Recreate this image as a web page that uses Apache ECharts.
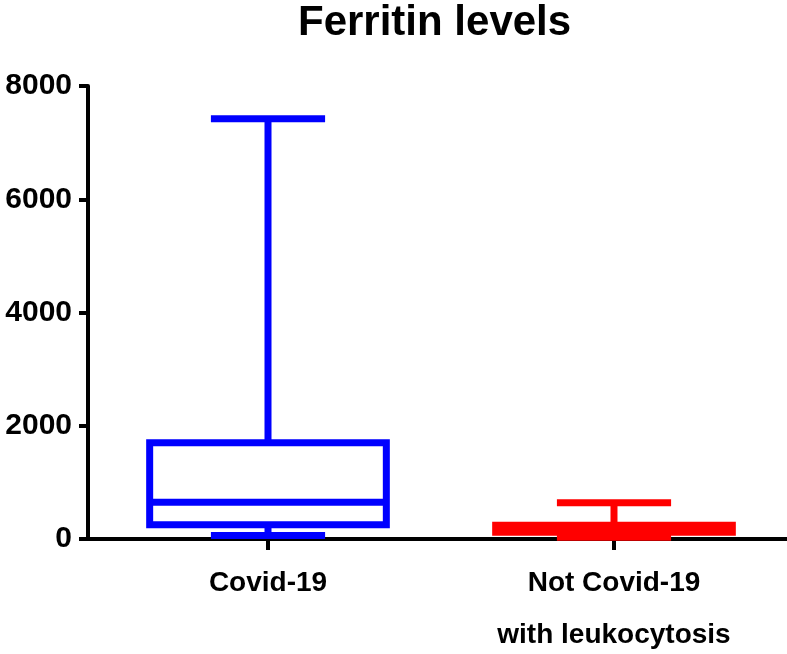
<!DOCTYPE html>
<html><head><meta charset="utf-8">
<script src="https://cdn.jsdelivr.net/npm/echarts@6/dist/echarts.min.js"></script>
<style>html,body{margin:0;padding:0;background:#fff}#c{width:787px;height:654px}</style>
</head><body><div id="c"></div>
<script>
const categories = ['Covid-19', 'Not Covid-19\nwith leukocytosis'];
// [min, Q1, median, Q3, max]
const covidStats = [60, 250, 650, 1700, 7420];
const nonCovidStats = [30, 120, 180, 245, 640];
const colors = ['#0000FF', '#FF0000'];
const yTicks = [0, 2000, 4000, 6000, 8000];

const chart = echarts.init(document.getElementById('c'), null, {renderer: 'canvas'});
const boxData = [covidStats, nonCovidStats].map((s, i) => [i].concat(s));

function renderItem(params, api) {
  const idx = api.value(0);
  const mn = api.value(1), q1 = api.value(2), md = api.value(3), q3 = api.value(4), mx = api.value(5);
  const band = api.size([1, 0])[0];
  const boxW = band * 0.684, capW = band * 0.33;
  const pMin = api.coord([idx, mn]), pQ1 = api.coord([idx, q1]), pMd = api.coord([idx, md]);
  const pQ3 = api.coord([idx, q3]), pMx = api.coord([idx, mx]);
  const cx = pMd[0];
  const col = colors[idx];
  const st = {stroke: col, lineWidth: 7, fill: null};
  const line = (x1, y1, x2, y2) => ({type: 'line', shape: {x1, y1, x2, y2}, style: st});
  return {type: 'group', children: [
    line(cx, pQ3[1], cx, pMx[1]),
    line(cx - capW / 2, pMx[1], cx + capW / 2, pMx[1]),
    line(cx, pQ1[1], cx, pMin[1]),
    line(cx - capW / 2, pMin[1], cx + capW / 2, pMin[1]),
    {type: 'rect', shape: {x: cx - boxW / 2, y: pQ3[1], width: boxW, height: pQ1[1] - pQ3[1]}, style: {stroke: col, lineWidth: 7, fill: 'rgba(0,0,0,0)'}},
    line(cx - boxW / 2, pMd[1], cx + boxW / 2, pMd[1])
  ]};
}

const font = 'Liberation Sans, Arial, sans-serif';
chart.setOption({
  animation: false,
  backgroundColor: '#fff',
  title: {text: 'Ferritin levels', left: 293, top: -3,
    textStyle: {fontFamily: font, fontWeight: 'bold', fontSize: 42, color: '#000'}},
  grid: [
    {left: 95, right: 0, top: 86, bottom: 115, outerBoundsMode: 'none', containLabel: false},
    {left: 88, right: 0, top: 86, bottom: 115, outerBoundsMode: 'none', containLabel: false}
  ],
  xAxis: [
    {type: 'category', gridIndex: 0, data: categories, boundaryGap: true,
      axisLine: {show: true, lineStyle: {color: '#000', width: 4}},
      axisTick: {show: true, alignWithLabel: true, length: 11, lineStyle: {color: '#000', width: 4}},
      axisLabel: {fontFamily: font, fontWeight: 'bold', fontSize: 28, color: '#000', margin: 18, lineHeight: 52}},
    {type: 'value', gridIndex: 1, min: 0, max: 1,
      axisLine: {show: true, onZero: false, lineStyle: {color: '#000', width: 4}},
      axisTick: {show: false}, axisLabel: {show: false}, splitLine: {show: false}}
  ],
  yAxis: [
    {type: 'value', gridIndex: 0, min: 0, max: 8000, interval: 2000, offset: 7,
      axisLine: {show: true, lineStyle: {color: '#000', width: 4}},
      axisTick: {show: true, length: 9, lineStyle: {color: '#000', width: 4}},
      axisLabel: {fontFamily: font, fontWeight: 'bold', fontSize: 30, color: '#000', margin: 16,
        formatter: v => yTicks.includes(v) ? String(v) : ''},
      splitLine: {show: false}},
    {type: 'value', gridIndex: 1, min: 0, max: 1, show: false}
  ],
  series: [{
    type: 'custom', xAxisIndex: 0, yAxisIndex: 0,
    renderItem: renderItem,
    encode: {x: 0, y: [1, 2, 3, 4, 5]},
    data: boxData, clip: false, z: 3
  }]
});
</script></body></html>
